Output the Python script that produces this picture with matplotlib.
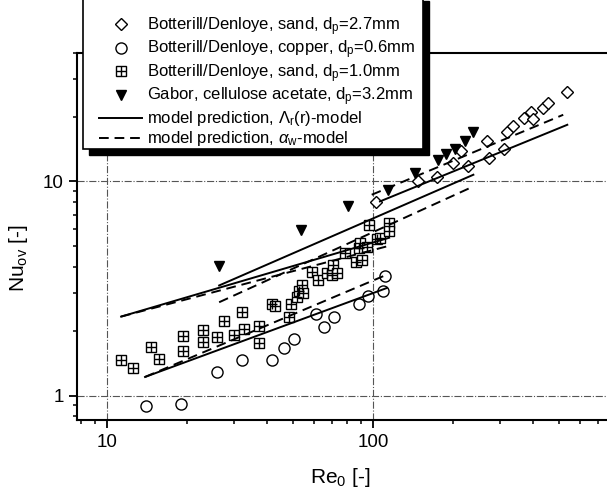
import matplotlib
matplotlib.use("Agg")
import matplotlib.pyplot as plt
from matplotlib.patches import Rectangle
from matplotlib.lines import Line2D
from matplotlib.ticker import FuncFormatter, NullFormatter, FixedLocator, LogLocator

plt.rcParams['font.family'] = ['Liberation Sans', 'DejaVu Sans']
plt.rcParams['mathtext.fontset'] = 'custom'
plt.rcParams['mathtext.rm'] = 'Liberation Sans'
plt.rcParams['mathtext.it'] = 'Liberation Sans:italic'
plt.rcParams['mathtext.bf'] = 'Liberation Sans:bold'

# Botterill/Denloye, sand, dp=2.7mm
re_sand27 = [102.6, 148, 173.6, 200, 213.6, 228, 267.6, 273.8, 310.8, 318,
             335, 370.5, 392.6, 398, 436.6, 456, 537.6]
nu_sand27 = [7.98, 10.0, 10.5, 12.19, 13.95, 11.75, 15.49, 12.86, 14.17, 17.11,
             18.25, 19.76, 21.21, 19.55, 22.14, 23.22, 26.14]

# Botterill/Denloye, copper, dp=0.6mm
re_copper = [14.0, 18.9, 25.9, 32.1, 41.7, 46.3, 50.5, 61.1, 65.6, 71.4,
             88.8, 95.5, 109.3, 110.9]
nu_copper = [0.891, 0.918, 1.284, 1.472, 1.472, 1.670, 1.845, 2.414, 2.092, 2.324,
             2.688, 2.929, 3.09, 3.63]

# Botterill/Denloye, sand, dp=1.0mm
re_sand10 = [11.29, 12.56, 14.60, 15.73, 19.26, 19.36, 22.89, 23.01, 25.85, 27.54,
             30.03, 32.10, 32.83, 37.37, 37.37, 41.62, 42.64, 48.45, 49.17, 51.67,
             52.84, 54.23, 54.70, 58.82, 62.28, 66.99, 69.94, 70.73, 73.54, 78.81,
             86.34, 88.84, 90.7, 89.38, 94.7, 96.85, 103.8, 106.2, 115.2, 115.2]
nu_sand10 = [1.461, 1.347, 1.680, 1.483, 1.905, 1.609, 2.032, 1.773, 1.871, 2.222,
             1.926, 2.453, 2.048, 2.121, 1.762, 2.667, 2.630, 2.329, 2.688, 2.888,
             3.066, 3.296, 3.014, 3.790, 3.467, 3.737, 3.669, 4.087, 3.729, 4.613,
             4.221, 4.889, 4.313, 5.176, 4.942, 6.232, 5.385, 5.420, 6.395, 5.843]

# Gabor, cellulose acetate, dp=3.2mm
re_gabor = [26.4, 53.5, 80.8, 114.2, 143.8, 176, 188, 203.4, 221.8, 238.4]
nu_gabor = [4.04, 5.91, 7.70, 9.15, 10.94, 12.63, 13.47, 14.17, 15.49, 16.93]

# model predictions: Lambda_r(r)-model (solid) and alpha_w-model (dashed)
re_m_sand27_lam = [106.2, 537.6]
nu_m_sand27_lam = [8.07, 18.39]
re_m_sand27_a = [98.9, 519]
nu_m_sand27_a = [8.67, 20.48]

re_m_copper = [13.9, 112.6]
nu_m_copper_lam = [1.223, 3.18]
nu_m_copper_a = [1.223, 3.67]

re_m_sand10 = [11.3, 115]
nu_m_sand10_lam = [2.34, 5.46]
nu_m_sand10_a = [2.34, 5.01]

re_m_gabor = [26.4, 238.4]
nu_m_gabor_lam = [3.27, 10.75]
nu_m_gabor_a = [2.73, 9.48]

W, H = 607, 498
fig = plt.figure(figsize=(W / 100, H / 100), dpi=100)
left, right, top, bottom = 77.4, 639.0, 52.5, 420.0
ax = fig.add_axes([left / W, 1 - bottom / H, (right - left) / W, (bottom - top) / H])
ax.set_xscale('log')
ax.set_yscale('log')
ax.set_xlim(7.74, 1000)
ax.set_ylim(0.77, 40)

ax.grid(True, which='major', linestyle='-.', color='#555555', linewidth=0.8)

mk = dict(linestyle='none', markerfacecolor='white', markeredgecolor='black',
          markeredgewidth=1.0)
ax.plot(re_sand27, nu_sand27, marker='D', markersize=6.2, **mk)
ax.plot(re_copper, nu_copper, marker='o', markersize=8, **mk)
ax.plot(re_sand10, nu_sand10, marker='s', markersize=7, **mk)
ax.plot(re_sand10, nu_sand10, linestyle='none', marker='+', markersize=7,
        markeredgecolor='black', markeredgewidth=1.0)
ax.plot(re_gabor, nu_gabor, linestyle='none', marker='v', markersize=7.5,
        color='black')

dash = (0, (5, 3))
lw = 1.4
ax.plot(re_m_sand27_lam, nu_m_sand27_lam, color='black', lw=lw)
ax.plot(re_m_sand27_a, nu_m_sand27_a, color='black', lw=lw, linestyle=dash)
ax.plot(re_m_copper, nu_m_copper_lam, color='black', lw=lw)
ax.plot(re_m_copper, nu_m_copper_a, color='black', lw=lw, linestyle=dash)
ax.plot(re_m_sand10, nu_m_sand10_lam, color='black', lw=lw)
ax.plot(re_m_sand10, nu_m_sand10_a, color='black', lw=lw, linestyle=dash)
ax.plot(re_m_gabor, nu_m_gabor_lam, color='black', lw=lw)
ax.plot(re_m_gabor, nu_m_gabor_a, color='black', lw=lw, linestyle=dash)

fmt = FuncFormatter(lambda v, p: f'{v:g}' if v < 500 else '')
for axis in (ax.xaxis, ax.yaxis):
    axis.set_major_locator(FixedLocator([1, 10, 100, 1000]))
    axis.set_major_formatter(fmt)
    axis.set_minor_locator(LogLocator(base=10, subs=range(2, 10)))
    axis.set_minor_formatter(NullFormatter())
ax.tick_params(which='major', direction='out', length=6, width=1.3,
               labelsize=13.5, pad=4)
ax.tick_params(which='minor', direction='out', length=3, width=1.1)
for s in ax.spines.values():
    s.set_linewidth(1.5)

ax.set_xlabel('Re$_0$ [-]', fontsize=15)
ax.set_ylabel('Nu$_\\mathrm{ov}$ [-]', fontsize=15)
ax.xaxis.set_label_coords((340 - left) / (right - left), -0.125)
ax.yaxis.set_label_coords(-0.085, (bottom - 258) / (bottom - top))

# legend frame with drop shadow
lx0, lx1, ly0, ly1, sh = 83.3, 423.0, -5.0, 149.0, 6.0
fig.add_artist(Rectangle(((lx0 + sh) / W, 1 - (ly1 + sh) / H), (lx1 - lx0) / W,
                         (ly1 - ly0) / H, transform=fig.transFigure,
                         facecolor='black', edgecolor='black', zorder=3))
fig.add_artist(Rectangle((lx0 / W, 1 - ly1 / H), (lx1 - lx0) / W, (ly1 - ly0) / H,
                         transform=fig.transFigure, facecolor='white',
                         edgecolor='black', linewidth=1.2, zorder=4))

handles = [
    Line2D([], [], marker='D', markersize=6.2, **mk),
    Line2D([], [], marker='o', markersize=8, **mk),
    (Line2D([], [], marker='s', markersize=7, **mk),
     Line2D([], [], linestyle='none', marker='+', markersize=7,
            markeredgecolor='black', markeredgewidth=1.0)),
    Line2D([], [], linestyle='none', marker='v', markersize=7.5, color='black'),
    Line2D([], [], color='black', lw=lw),
    Line2D([], [], color='black', lw=lw, linestyle=dash),
]
labels = [
    'Botterill/Denloye, sand, d$_\\mathrm{p}$=2.7mm',
    'Botterill/Denloye, copper, d$_\\mathrm{p}$=0.6mm',
    'Botterill/Denloye, sand, d$_\\mathrm{p}$=1.0mm',
    'Gabor, cellulose acetate, d$_\\mathrm{p}$=3.2mm',
    'model prediction, $\\Lambda_\\mathrm{r}$(r)-model',
    'model prediction, $\\alpha_\\mathrm{w}$-model',
]
leg = fig.legend(handles, labels, loc='upper left',
                 bbox_to_anchor=(99 / W, 1 - 15 / H), frameon=False,
                 fontsize=12, handlelength=2.6, handletextpad=0.3,
                 labelspacing=0.06, borderpad=0, borderaxespad=0)
leg.set_zorder(5)

fig.savefig('out.png', dpi=100)
